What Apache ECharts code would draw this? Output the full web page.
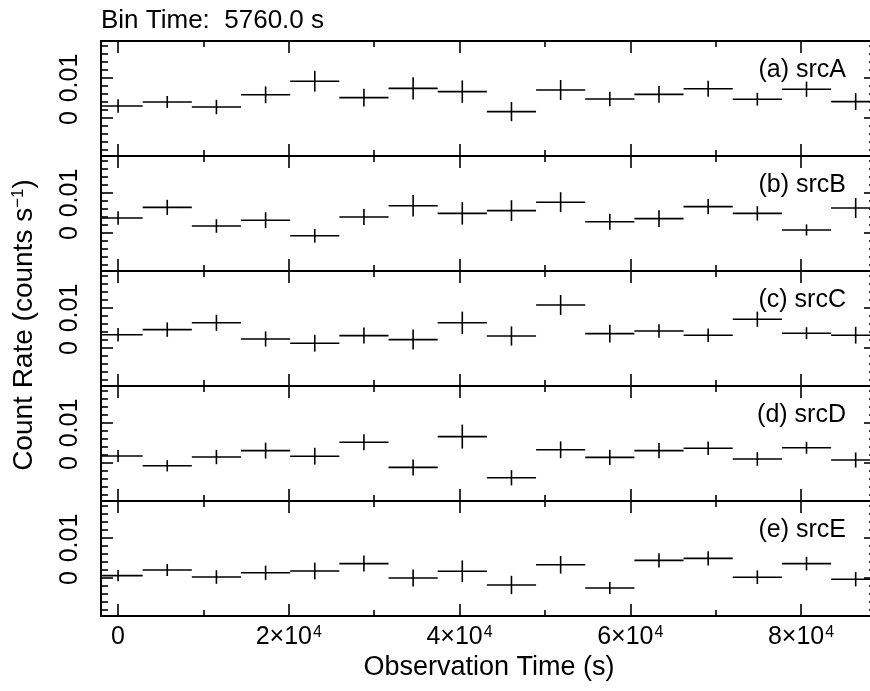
<!DOCTYPE html>
<html>
<head>
<meta charset="utf-8">
<script src="https://cdn.jsdelivr.net/npm/echarts@6/dist/echarts.min.js"></script>
<style>
html,body{margin:0;padding:0;background:#fff;}
#chart{width:870px;height:691px;}
</style>
</head>
<body>
<div id="chart"></div>
<script>
// ---------------- data ----------------
const binTime = 5760;
const titleText = 'Bin Time:  5760.0 s';
const times = [0, 5760, 11520, 17280, 23040, 28800, 34560, 40320, 46080, 51840, 57600, 63360, 69120, 74880, 80640, 86400];
const panelNames = ['(a) srcA', '(b) srcB', '(c) srcC', '(d) srcD', '(e) srcE'];

const rateA = [0.0030, 0.0040, 0.00275, 0.0058, 0.0092, 0.0051, 0.0074, 0.0066, 0.0016, 0.0070, 0.00475, 0.0059, 0.0073, 0.0047, 0.0072, 0.0041];
const errA  = [0.0017, 0.0015, 0.0018, 0.0021, 0.0026, 0.0022, 0.0028, 0.0028, 0.0024, 0.0025, 0.0018, 0.0021, 0.0020, 0.0016, 0.0019, 0.0021];
const rateB = [0.00375, 0.0064, 0.00175, 0.0032, -0.0007, 0.0040, 0.0068, 0.0049, 0.0056, 0.0077, 0.0028, 0.0036, 0.0066, 0.0049, 0.00075, 0.00625];
const errB  = [0.0017, 0.0019, 0.0017, 0.0020, 0.0017, 0.0020, 0.0027, 0.0028, 0.0026, 0.0025, 0.0020, 0.0021, 0.0019, 0.0018, 0.0014, 0.0025];
const rateC = [0.0033, 0.0046, 0.0063, 0.00225, 0.0012, 0.0031, 0.0021, 0.0063, 0.0030, 0.01075, 0.0036, 0.00425, 0.0032, 0.0072, 0.0037, 0.0032];
const errC  = [0.0017, 0.0018, 0.0020, 0.0019, 0.0021, 0.0020, 0.0025, 0.0028, 0.0024, 0.0025, 0.0022, 0.0017, 0.0017, 0.0019, 0.0015, 0.0021];
const rateD = [0.00175, -0.0007, 0.0015, 0.0031, 0.0017, 0.0052, -0.0011, 0.0066, -0.0037, 0.0033, 0.0014, 0.0031, 0.0037, 0.0010, 0.0038, 0.00075];
const errD  = [0.0015, 0.0014, 0.0018, 0.0020, 0.0021, 0.0020, 0.0020, 0.0030, 0.0019, 0.0021, 0.0019, 0.0019, 0.0017, 0.0017, 0.0015, 0.0019];
const rateE = [0.0006, 0.0020, 0.00025, 0.0013, 0.00175, 0.0036, 0.0000, 0.0017, -0.00175, 0.0033, -0.0025, 0.0044, 0.0049, 0.0002, 0.0036, -0.0003];
const errE  = [0.0014, 0.0015, 0.0017, 0.0018, 0.0021, 0.0020, 0.0021, 0.0027, 0.0023, 0.0022, 0.0015, 0.0018, 0.0018, 0.0017, 0.0017, 0.0018];

const rates = [rateA, rateB, rateC, rateD, rateE];
const errs = [errA, errB, errC, errD, errE];

// tick values
const xMajorTicks = [0, 20000, 40000, 60000, 80000];
const xMinorTicks = [10000, 30000, 50000, 70000];
const xTickLabels = ['0', '2×10{sup|4}', '4×10{sup|4}', '6×10{sup|4}', '8×10{sup|4}'];
const yMajorTicks = [0, 0.01];
const yMinorTicks = [-0.008, -0.006, -0.004, -0.002, 0.002, 0.004, 0.006, 0.008, 0.012, 0.014, 0.016, 0.018];
const yTickLabels = ['0', '0.01'];

// ---------------- layout ----------------
const FONT = '"Liberation Sans", Arial, Helvetica, sans-serif';
const GRID_LEFT = 101, GRID_WIDTH = 775, TOP0 = 41, PANEL_H = 115;
const X_MIN = -2000, X_MAX = 88780;
const Y_MIN = -0.0095, Y_MAX = 0.01925;
const LW = 1.6;

const chart = echarts.init(document.getElementById('chart'), null, {renderer: 'canvas'});

const grids = [], xAxes = [], yAxes = [], series = [], graphics = [];

function xAxisDef(g, pos, ticks, len, isLast, showLine) {
  const showLabel = isLast && pos === 'bottom' && ticks === xMajorTicks;
  return {
    type: 'value', gridIndex: g, position: pos, min: X_MIN, max: X_MAX,
    axisLine: {show: showLine, onZero: false, lineStyle: {color: '#000', width: 2}},
    axisTick: {show: true, inside: true, length: len, customValues: ticks, lineStyle: {color: '#000', width: LW}},
    axisLabel: showLabel ? {
      show: true, customValues: ticks, margin: 9, color: '#000',
      fontFamily: FONT, fontSize: 25,
      formatter: function (v) { return xTickLabels[xMajorTicks.indexOf(v)]; },
      rich: {sup: {fontSize: 16, fontFamily: FONT, color: '#000', verticalAlign: 'top', padding: [0, 0, 0, 1]}}
    } : {show: false},
    splitLine: {show: false}
  };
}
function yAxisDef(g, pos, ticks, len, showLabel, showLine) {
  return {
    type: 'value', gridIndex: g, position: pos, min: Y_MIN, max: Y_MAX,
    axisLine: {show: showLine, onZero: false, lineStyle: {color: '#000', width: 2}},
    axisTick: {show: true, inside: true, length: len, customValues: ticks, lineStyle: {color: '#000', width: LW}},
    axisLabel: showLabel ? {
      show: true, customValues: ticks, rotate: 90, margin: 18, color: '#000',
      fontFamily: FONT, fontSize: 25,
      formatter: function (v) { return yTickLabels[yMajorTicks.indexOf(v)]; }
    } : {show: false},
    splitLine: {show: false}
  };
}

function renderCross(params, api) {
  const x = api.value(0), y = api.value(1), e = api.value(2);
  const cs = params.coordSys;
  const pL = api.coord([x - binTime / 2, y]);
  const pR = api.coord([x + binTime / 2, y]);
  const pT = api.coord([x, y + e]);
  const pB = api.coord([x, y - e]);
  const xl = Math.max(pL[0], cs.x), xr = Math.min(pR[0], cs.x + cs.width);
  const st = {stroke: '#000', lineWidth: LW};
  return {
    type: 'group',
    children: [
      {type: 'line', shape: {x1: xl, y1: pL[1], x2: xr, y2: pR[1]}, style: st},
      {type: 'line', shape: {x1: pT[0], y1: pT[1], x2: pB[0], y2: pB[1]}, style: st}
    ]
  };
}

for (let g = 0; g < 5; g++) {
  const top = TOP0 + g * PANEL_H;
  grids.push({left: GRID_LEFT, width: GRID_WIDTH, top: top, height: PANEL_H,
              containLabel: false, outerBoundsMode: 'none'});
  const isLast = g === 4;
  xAxes.push(xAxisDef(g, 'bottom', xMajorTicks, 12, isLast, true));
  xAxes.push(xAxisDef(g, 'bottom', xMinorTicks, 6, isLast, false));
  xAxes.push(xAxisDef(g, 'top', xMajorTicks, 12, isLast, true));
  xAxes.push(xAxisDef(g, 'top', xMinorTicks, 6, isLast, false));
  yAxes.push(yAxisDef(g, 'left', yMajorTicks, 12, true, true));
  yAxes.push(yAxisDef(g, 'left', yMinorTicks, 7, false, false));
  yAxes.push(yAxisDef(g, 'right', yMajorTicks, 12, false, true));
  yAxes.push(yAxisDef(g, 'right', yMinorTicks, 7, false, false));

  series.push({
    type: 'custom', xAxisIndex: g * 4, yAxisIndex: g * 4,
    renderItem: renderCross,
    encode: {x: 0, y: 1},
    data: times.map(function (t, i) { return [t, rates[g][i], errs[g][i]]; }),
    silent: true, animation: false
  });

  graphics.push({
    type: 'text', x: 846, y: top + 29,
    style: {text: panelNames[g], fill: '#000', font: '25px ' + FONT, textAlign: 'right', textVerticalAlign: 'middle'}
  });
}

graphics.push({
  type: 'text', x: 101, y: 21,
  style: {text: titleText, fill: '#000', font: '26px ' + FONT, textAlign: 'left', textVerticalAlign: 'middle'}
});
graphics.push({
  type: 'text', x: 489, y: 668,
  style: {text: 'Observation Time (s)', fill: '#000', font: '27px ' + FONT, textAlign: 'center', textVerticalAlign: 'middle'}
});
graphics.push({
  type: 'text', x: 24, y: 325, rotation: Math.PI / 2,
  style: {
    text: '{a|Count Rate (counts s}{s|−1}{a|)}',
    textAlign: 'center', textVerticalAlign: 'middle',
    rich: {
      a: {fontSize: 28, fontFamily: FONT, fill: '#000'},
      s: {fontSize: 17, fontFamily: FONT, fill: '#000', verticalAlign: 'top'}
    }
  }
});

chart.setOption({
  animation: false,
  backgroundColor: '#fff',
  grid: grids,
  xAxis: xAxes,
  yAxis: yAxes,
  series: series,
  graphic: graphics
});
</script>
</body>
</html>
